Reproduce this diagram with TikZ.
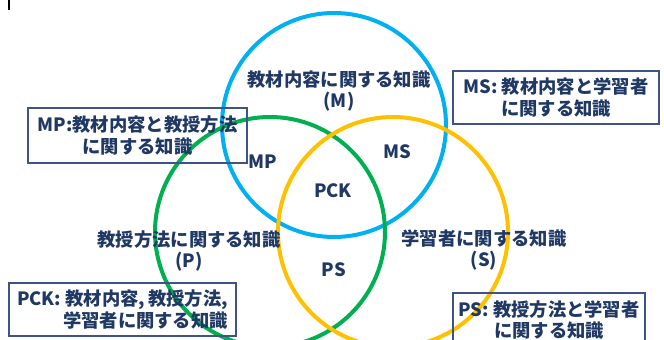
\documentclass[tikz,border=0pt]{standalone}
\usepackage{fontspec}
\setmainfont{Noto Sans CJK JP}
\definecolor{navy}{HTML}{1F3864}
\definecolor{cblue}{HTML}{00B0F0}
\definecolor{cgreen}{HTML}{00B050}
\definecolor{cyellow}{HTML}{FFC000}
\definecolor{boxline}{HTML}{3F5387}
\begin{document}
\begin{tikzpicture}[x=1pt,y=-1pt,
  ring/.style={line width=4pt},
  lbl/.style={text=navy,font=\fontsize{18.3}{21.5}\selectfont\bfseries,inner sep=0pt,align=center},
  infobox/.style={draw=boxline,line width=1.1pt,text=navy,font=\fontsize{18.3}{21.5}\selectfont\bfseries,inner sep=0pt}]
\useasboundingbox (0,0) rectangle (664,340);
\clip (0,0) rectangle (664,340);
\fill[white] (0,0) rectangle (664,340);
\draw[line width=1.5pt,black] (9,0) -- (9,10);
\coordinate (cM) at (334,125);
\coordinate (cP) at (270,232);
\coordinate (cS) at (393,232);
\draw[ring,cblue] (cM) circle (112);
\draw[ring,cgreen] (cP) circle (115);
\draw[ring,cyellow] (cS) circle (115);
\node[lbl] (M) at (339,91) {教材内容に関する知識\\(M)};
\node[lbl] (P) at (189,251) {教授方法に関する知識\\(P)};
\node[lbl] (S) at (484,250) {学習者に関する知識\\(S)};
\node[lbl] (MP) at (263,162) {MP};
\node[lbl] (MS) at (397,152) {MS};
\node[lbl] (PCK) at (333,191) {PCK};
\node[lbl] (PS) at (334,270) {PS};
\node[infobox,minimum width=219pt,minimum height=55pt,align=center] (bMP) at (137.5,135.5) {MP:教材内容と教授方法\\に関する知識};
\node[infobox,minimum width=206pt,minimum height=53pt,align=center] (bMS) at (556,97.5) {MS: 教材内容と学習者\\に関する知識};
\node[infobox,minimum width=227pt,minimum height=53pt,align=right] (bPCK) at (122.5,309.5) {PCK: 教材内容,\,教授方法,\\学習者に関する知識};
\node[infobox,minimum width=192pt,minimum height=54pt,align=center] (bPS) at (549,320) {PS: 教授方法と学習者\\に関する知識};
\end{tikzpicture}
\end{document}
